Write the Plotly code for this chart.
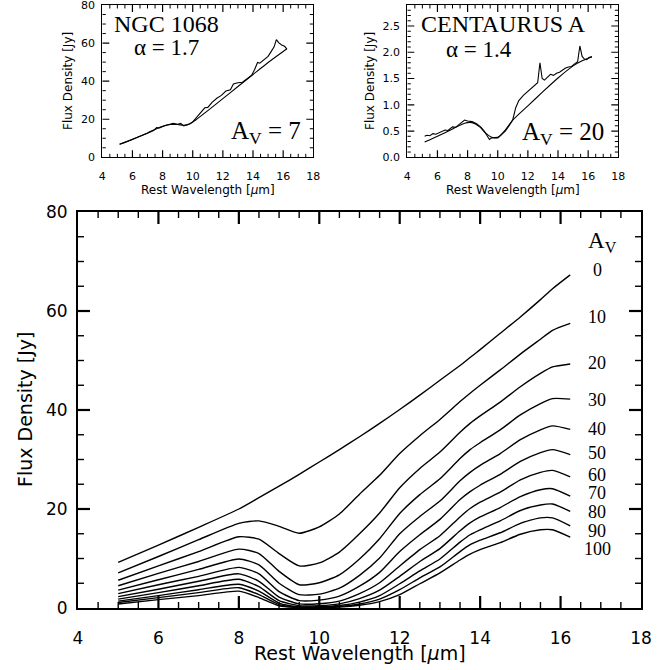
import plotly.graph_objects as go

# ---------------- data ----------------
wavelength = [5.0, 6.0, 7.0, 8.0, 8.5, 9.0, 9.5, 10.0, 10.5, 11.0, 11.5, 12.0,
              12.5, 13.0, 13.5, 13.75, 14.0, 14.5, 15.0, 15.5, 15.8, 16.24]
av_levels = [0, 10, 20, 30, 40, 50, 60, 70, 80, 90, 100]

flux_av0 = [9.2, 12.7, 16.3, 20.0, 22.3, 24.6, 27.0, 29.5, 32.0, 34.6, 37.3, 40.1,
            43.0, 46.0, 49.0, 50.6, 52.2, 55.5, 58.8, 62.3, 64.5, 67.3]
flux_av10 = [7.1, 10.4, 13.8, 17.1, 17.6, 16.5, 15.1, 16.4, 19.0, 23.0, 26.8, 31.2,
             34.8, 38.1, 41.7, 43.4, 45.0, 48.1, 51.3, 54.3, 56.1, 57.5]
flux_av20 = [5.6, 8.5, 11.4, 14.4, 13.9, 11.0, 8.5, 9.1, 11.3, 15.0, 19.2, 24.3,
             28.2, 31.5, 35.5, 37.3, 38.8, 41.6, 44.7, 47.4, 48.7, 49.3]
flux_av30 = [4.5, 7.0, 9.4, 11.9, 11.0, 7.4, 4.7, 5.1, 6.7, 9.9, 14.0, 19.1,
             22.9, 26.1, 30.2, 32.0, 33.4, 36.0, 39.0, 41.3, 42.3, 42.2]
flux_av40 = [3.6, 5.7, 7.8, 9.9, 8.7, 5.0, 2.7, 2.8, 4.0, 6.6, 10.1, 15.0,
             18.5, 21.6, 25.7, 27.4, 28.8, 31.2, 34.0, 36.0, 36.8, 36.1]
flux_av50 = [2.9, 4.7, 6.4, 8.2, 6.9, 3.3, 1.5, 1.6, 2.4, 4.4, 7.2, 11.4,
             14.8, 17.9, 21.9, 23.5, 24.8, 27.0, 29.6, 31.4, 32.0, 31.0]
flux_av60 = [2.3, 3.8, 5.4, 6.9, 5.4, 2.2, 0.83, 0.87, 1.4, 2.9, 5.1, 8.5,
             11.8, 14.6, 18.4, 20.1, 21.4, 23.4, 25.9, 27.4, 27.8, 26.5]
flux_av70 = [1.8, 3.1, 4.5, 5.8, 4.3, 1.5, 0.47, 0.48, 0.84, 1.9, 3.6, 6.4,
             9.4, 12.0, 15.6, 17.2, 18.4, 20.3, 22.5, 23.9, 24.1, 22.6]
flux_av80 = [1.4, 2.5, 3.7, 4.8, 3.4, 1.0, 0.26, 0.27, 0.50, 1.2, 2.5, 4.9,
             7.5, 9.9, 13.3, 14.8, 15.8, 17.6, 19.7, 20.8, 21.0, 19.5]
flux_av90 = [1.1, 2.1, 3.1, 4.1, 2.7, 0.67, 0.15, 0.15, 0.29, 0.8, 1.8, 3.7,
             6.1, 8.3, 11.4, 12.8, 13.7, 15.2, 17.1, 18.2, 18.2, 16.6]
flux_av100 = [0.8, 1.7, 2.5, 3.4, 2.1, 0.45, 0.08, 0.08, 0.18, 0.55, 1.3, 2.7,
              4.9, 7.1, 9.7, 10.9, 11.8, 13.2, 14.9, 15.8, 15.8, 14.3]

# NGC 1068 (top-left inset)
ngc_wl_model = [5.15, 6.0, 7.0, 7.6, 8.0, 8.5, 9.0, 9.4, 9.8, 10.2, 11.0, 12.0,
                13.0, 14.0, 15.0, 16.0, 16.25]
ngc_model = [6.8, 9.4, 12.8, 15.0, 16.3, 17.2, 17.2, 16.8, 17.5, 19.6, 24.5, 30.8,
             37.2, 43.5, 49.8, 55.6, 57.0]
ngc_wl_obs = [5.15, 5.6, 6.0, 6.5, 7.0, 7.4, 7.6, 7.8, 8.1, 8.4, 8.7, 9.0, 9.2, 9.4,
              9.7, 10.0, 10.3, 10.6, 10.8, 11.0, 11.3, 11.6, 11.9, 12.2, 12.5, 12.7,
              13.0, 13.3, 13.6, 13.9, 14.1, 14.3, 14.45, 14.7, 15.0, 15.2, 15.4,
              15.55, 15.7, 15.9, 16.1, 16.25]
ngc_obs = [6.8, 8.1, 9.4, 11.0, 12.6, 14.0, 15.6, 15.4, 16.4, 17.0, 17.8, 17.4, 17.8,
           16.5, 17.3, 18.6, 21.5, 24.5, 26.0, 26.2, 29.0, 31.0, 32.5, 34.8, 35.5,
           38.5, 39.2, 39.4, 41.0, 43.0, 46.0, 49.8, 49.4, 51.0, 53.0, 55.5, 58.0,
           61.8, 60.2, 59.0, 58.3, 56.8]

# Centaurus A (top-right inset)
cen_wl_model = [5.15, 6.0, 7.0, 7.8, 8.3, 8.8, 9.2, 9.6, 10.0, 10.5, 11.0, 12.0,
                13.0, 14.0, 15.0, 15.6, 16.25]
cen_model = [0.29, 0.40, 0.54, 0.65, 0.66, 0.58, 0.46, 0.38, 0.37, 0.52, 0.71, 0.98,
             1.25, 1.51, 1.74, 1.84, 1.91]
cen_wl_obs = [5.15, 5.3, 5.5, 5.7, 5.9, 6.1, 6.3, 6.5, 6.7, 6.9, 7.0, 7.2, 7.4, 7.6,
              7.8, 8.0, 8.3, 8.6, 8.9, 9.1, 9.3, 9.45, 9.6, 9.8, 10.0, 10.2, 10.5,
              10.8, 11.0, 11.2, 11.4, 11.7, 12.0, 12.3, 12.5, 12.65, 12.8, 12.95,
              13.1, 13.3, 13.5, 13.7, 13.9, 14.1, 14.3, 14.5, 14.7, 14.9, 15.1,
              15.3, 15.45, 15.6, 15.75, 15.9, 16.05, 16.25]
cen_obs = [0.40, 0.42, 0.41, 0.45, 0.44, 0.47, 0.50, 0.52, 0.51, 0.55, 0.58, 0.57,
           0.62, 0.67, 0.71, 0.69, 0.68, 0.64, 0.57, 0.50, 0.41, 0.34, 0.37, 0.38,
           0.38, 0.42, 0.50, 0.62, 0.72, 0.95, 1.08, 1.18, 1.25, 1.33, 1.38, 1.42,
           1.80, 1.50, 1.47, 1.52, 1.58, 1.56, 1.60, 1.62, 1.66, 1.70, 1.72, 1.73,
           1.78, 1.82, 2.12, 1.92, 1.87, 1.86, 1.90, 1.92]

main_series = [flux_av0, flux_av10, flux_av20, flux_av30, flux_av40, flux_av50,
               flux_av60, flux_av70, flux_av80, flux_av90, flux_av100]

# ---------------- layout helpers ----------------
W, H = 666, 670
SANS = "DejaVu Sans"
SERIF = "Liberation Serif, Times New Roman, serif"


def px_x(p):
    return p / W


def px_y(p):
    return 1 - p / H


# panel boxes in pixels: (left, right, top, bottom)
MAIN = (78, 641, 212, 608)
TL = (102.3, 313.3, 5, 157.3)
TR = (407.3, 618.3, 5, 157.3)
X_RANGE = [4, 18]
MAIN_Y_RANGE = [0, 80]
TL_Y_RANGE = [0, 80]
TR_Y_RANGE = [0, 2.9]

fig = go.Figure()

for av, flux in zip(av_levels, main_series):
    fig.add_trace(go.Scatter(x=wavelength, y=flux, mode="lines", name=f"Av={av}",
                             line=dict(color="black", width=1.4, shape="spline", smoothing=0.6),
                             xaxis="x", yaxis="y", showlegend=False, hoverinfo="skip"))

fig.add_trace(go.Scatter(x=ngc_wl_model, y=ngc_model, mode="lines",
                         line=dict(color="black", width=1.1, shape="spline", smoothing=0.5),
                         xaxis="x2", yaxis="y2", showlegend=False))
fig.add_trace(go.Scatter(x=ngc_wl_obs, y=ngc_obs, mode="lines",
                         line=dict(color="black", width=1.1),
                         xaxis="x2", yaxis="y2", showlegend=False))
fig.add_trace(go.Scatter(x=cen_wl_model, y=cen_model, mode="lines",
                         line=dict(color="black", width=1.1, shape="spline", smoothing=0.5),
                         xaxis="x3", yaxis="y3", showlegend=False))
fig.add_trace(go.Scatter(x=cen_wl_obs, y=cen_obs, mode="lines",
                         line=dict(color="black", width=1.1),
                         xaxis="x3", yaxis="y3", showlegend=False))


# ---------- inward tick marks on all four sides (IDL style), drawn on each panel's axes ----------
def add_ticks(xa, ya, box, xr, yr, xstep, xmajor, ystep, ymajor, big):
    L, R, T, B = box
    xpp = (xr[1] - xr[0]) / (R - L)
    ypp = (yr[1] - yr[0]) / (B - T)
    maj_len, min_len = (12, 6) if big else (7, 3.5)
    maj_w, min_w = (2.2, 1.4) if big else (1.2, 1.0)
    for is_major_pass in (True, False):
        xs, ys = [], []
        ln = maj_len if is_major_pass else min_len
        nx = int(round((xr[1] - xr[0]) / xstep))
        for i in range(1, nx):
            v = xr[0] + i * xstep
            k = (v - xr[0]) / xmajor
            is_major = abs(k - round(k)) < 1e-6
            if is_major != is_major_pass:
                continue
            xs += [v, v, None, v, v, None]
            ys += [yr[0], yr[0] + ln * ypp, None, yr[1], yr[1] - ln * ypp, None]
        ny = int(round((yr[1] - yr[0]) / ystep + 0.5))
        for i in range(1, ny + 1):
            v = round(yr[0] + i * ystep, 6)
            if v >= yr[1] - 1e-9:
                break
            k = (v - yr[0]) / ymajor
            is_major = abs(k - round(k)) < 1e-6
            if is_major != is_major_pass:
                continue
            xs += [xr[0], xr[0] + ln * xpp, None, xr[1], xr[1] - ln * xpp, None]
            ys += [v, v, None, v, v, None]
        fig.add_trace(go.Scatter(x=xs, y=ys, mode="lines", xaxis=xa, yaxis=ya,
                                 line=dict(color="black", width=maj_w if is_major_pass else min_w),
                                 showlegend=False, hoverinfo="skip", connectgaps=False,
                                 cliponaxis=False))


add_ticks("x", "y", MAIN, X_RANGE, MAIN_Y_RANGE, 0.5, 2, 5, 20, True)
add_ticks("x2", "y2", TL, X_RANGE, TL_Y_RANGE, 0.5, 2, 5, 20, False)
add_ticks("x3", "y3", TR, X_RANGE, TR_Y_RANGE, 0.5, 2, 0.1, 0.5, False)


def axis(domain, rng, dtick, big, anchor, tick0, is_x, fmt=None):
    # transparent outside ticks only push the tick labels away from the axis line
    if is_x:
        tl = 14 if big else 8
    else:
        tl = 5 if big else 4
    d = dict(domain=domain, range=rng, dtick=dtick, tick0=tick0, automargin=False,
             showline=True, linecolor="black", linewidth=2 if big else 1,
             mirror=True, ticks="outside", ticklen=tl, tickcolor="rgba(0,0,0,0)",
             showgrid=False, zeroline=False, anchor=anchor,
             ticklabeloverflow="allow",
             tickfont=dict(family=SANS, size=17 if big else 11, color="black"))
    if fmt:
        d["tickformat"] = fmt
    return d


fig.update_layout(
    template="none",
    width=W, height=H,
    margin=dict(l=0, r=0, t=0, b=0, pad=0),
    paper_bgcolor="white", plot_bgcolor="white",
    xaxis=axis([px_x(MAIN[0]), px_x(MAIN[1])], X_RANGE, 2, True, "y", 4, True),
    yaxis=axis([px_y(MAIN[3]), px_y(MAIN[2])], MAIN_Y_RANGE, 20, True, "x", 0, False),
    xaxis2=axis([px_x(TL[0]), px_x(TL[1])], X_RANGE, 2, False, "y2", 4, True),
    yaxis2=axis([px_y(TL[3]), px_y(TL[2])], TL_Y_RANGE, 20, False, "x2", 0, False),
    xaxis3=axis([px_x(TR[0]), px_x(TR[1])], X_RANGE, 2, False, "y3", 4, True),
    yaxis3=axis([px_y(TR[3]), px_y(TR[2])], TR_Y_RANGE, 0.5, False, "x3", 0, False, fmt=".1f"),
)

# ---------------- texts ----------------
ann = []


def add_text(text, x, y, size, family, xanchor="center", yanchor="middle", angle=0):
    ann.append(dict(text=text, x=px_x(x), y=px_y(y), xref="paper", yref="paper",
                    showarrow=False, xanchor=xanchor, yanchor=yanchor, textangle=angle,
                    font=dict(family=family, size=size, color="black")))


# axis titles
add_text("Rest Wavelength [<i>μ</i>m]", 359.5, 653, 19, SANS)
add_text("Flux Density [Jy]", 25, 410, 19, SANS, angle=-90)
add_text("Rest Wavelength [<i>μ</i>m]", 207.8, 190, 12, SANS)
add_text("Flux Density [Jy]", 68, 81, 12, SANS, angle=-90)
add_text("Rest Wavelength [<i>μ</i>m]", 512.8, 190, 12, SANS)
add_text("Flux Density [Jy]", 370, 81, 12, SANS, angle=-90)

# inset texts
add_text("NGC 1068", 112, 24, 24, SERIF, xanchor="left")
add_text("α = 1.7", 132, 48, 23, SERIF, xanchor="left")
add_text("A<sub>V</sub> = 7", 303, 132, 25, SERIF, xanchor="right")
add_text("CENTAURUS A", 419, 24, 24, SERIF, xanchor="left")
add_text("α = 1.4", 444, 50, 23, SERIF, xanchor="left")
add_text("A<sub>V</sub> = 20", 606, 133, 25, SERIF, xanchor="right")

# A_V labels for the main panel
add_text("A<sub>V</sub>", 602, 242, 23, SERIF)
label_y_px = [270, 316.7, 363.3, 400, 429.3, 453.3, 475, 493.3, 512.3, 530.7, 549]
for av, yp in zip(av_levels, label_y_px):
    add_text(str(av), 597, yp, 18, SERIF)

fig.update_layout(annotations=ann)

fig.write_html("out.html", config={"displayModeBar": False},
               post_script="document.body.style.margin='0px';document.body.style.overflow='hidden';")
